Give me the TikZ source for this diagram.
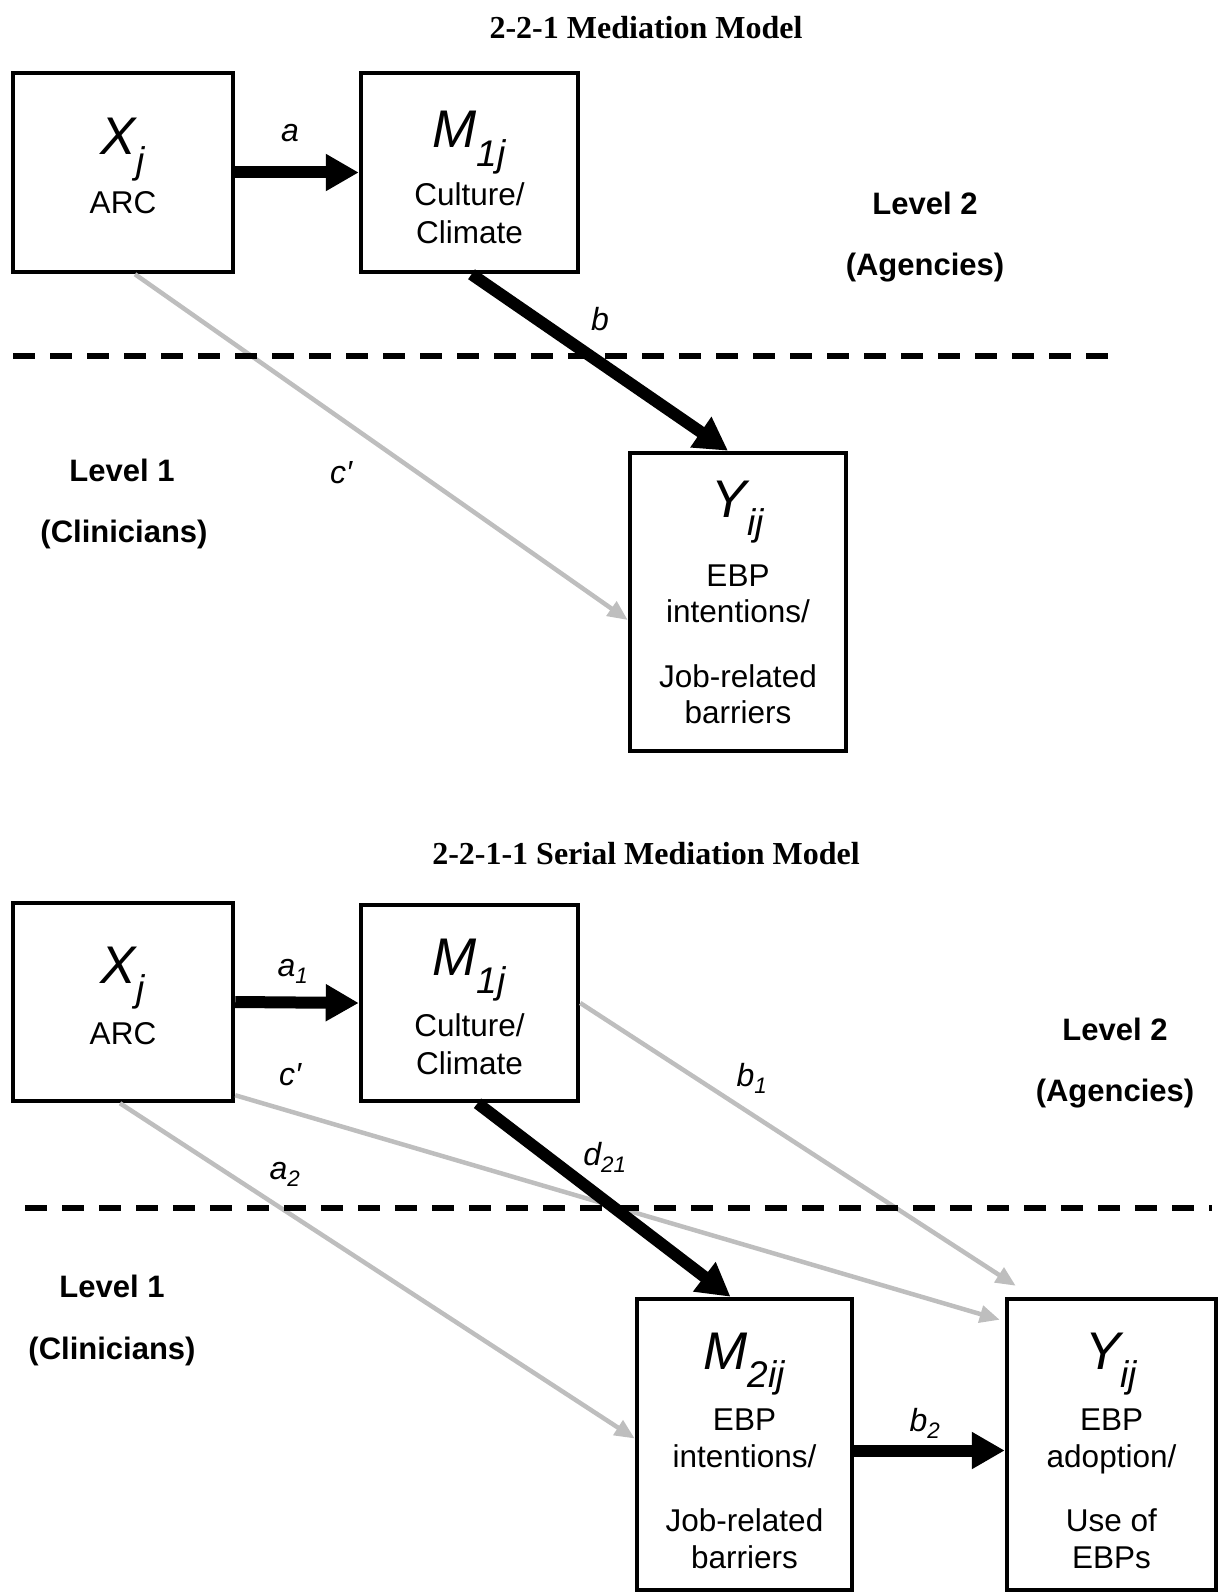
\documentclass[tikz,border=0pt]{standalone}
\usepackage{fontspec}
\setmainfont{Liberation Sans}
\newfontfamily\titlefont{Liberation Serif}
\usetikzlibrary{arrows.meta}
\definecolor{pathgray}{RGB}{190,190,190}

\begin{document}
\begin{tikzpicture}[x=1pt,y=-1pt,
  box/.style={draw, line width=4.5pt, inner sep=0pt},
  var/.style={font=\fontsize{53}{60}\selectfont\itshape, anchor=base, inner sep=0pt},
  txt/.style={font=\fontsize{31.5}{37}\selectfont, anchor=base, inner sep=0pt},
  lbl/.style={font=\fontsize{32}{38}\selectfont\itshape, inner sep=0pt},
  lvl/.style={font=\fontsize{31}{37}\selectfont\bfseries, inner sep=0pt},
  ttl/.style={font=\titlefont\fontsize{32}{38}\selectfont\bfseries, inner sep=0pt},
  heavy/.style={line width=12pt, -{Triangle[length=33pt,width=35pt]}},
  light/.style={draw=pathgray, line width=4.5pt, -{Triangle[length=20pt,width=17pt]}},
  divider/.style={line width=5.5pt, dash pattern=on 22pt off 15pt},
]
\useasboundingbox (0,0) rectangle (1220,1594);

% ---------------- 2-2-1 mediation model ----------------
\node[ttl] (title1) at (646,28) {2-2-1 Mediation Model};

\node[box, minimum width=220pt, minimum height=199pt] (xa) at (123,172.5) {};
\node[box, minimum width=217pt, minimum height=199pt] (ma) at (469.5,172.5) {};
\node[box, minimum width=216pt, minimum height=298pt] (ya) at (738,602) {};

\node[var] (xa-sym) at (123,155) {X\textsubscript{j}};
\node[txt] (xa-t1) at (123,214) {ARC};
\node[var] (ma-sym) at (469.5,148) {M\textsubscript{1j}};
\node[txt] (ma-t1) at (469.5,206) {Culture/};
\node[txt] (ma-t2) at (469.5,244) {Climate};
\node[var] (ya-sym) at (738,517) {Y\textsubscript{ij}};
\node[txt] (ya-t1) at (738,586) {EBP};
\node[txt] (ya-t2) at (738,622) {intentions/};
\node[txt] (ya-t3) at (738,687) {Job-related};
\node[txt] (ya-t4) at (738,723) {barriers};

\coordinate (div1-l) at (13,356);
\coordinate (div1-r) at (1122,356);

\draw[light] ([xshift=12pt]xa.south) -- ([yshift=-18pt]ya.west);
\draw[divider] (div1-l) -- (div1-r);
\draw[heavy] (xa.east) -- (ma.west);
\draw[heavy] ([xshift=2pt]ma.south) -- ([xshift=-10pt]ya.north);

\node[lbl] (lab-a) at (290,133) {a};
\node[lbl] (lab-b) at (600,319) {b};
\node[lbl] (lab-c) at (341,473) {c\char"2032};

\node[lvl] (lvl2a) at (925,203) {Level 2};
\node[lvl] (lvl2b) at (925,268) {(Agencies)};
\node[lvl] (lvl1a) at (122,470) {Level 1};
\node[lvl] (lvl1b) at (124,534) {(Clinicians)};

% ---------------- 2-2-1-1 serial mediation model ----------------
\node[ttl] (title2) at (646,854) {2-2-1-1 Serial Mediation Model};

\node[box, minimum width=220pt, minimum height=198pt] (xb) at (123,1002) {};
\node[box, minimum width=217pt, minimum height=196pt] (mb) at (469.5,1003) {};
\node[box, minimum width=215pt, minimum height=291pt] (mc) at (744.5,1444.5) {};
\node[box, minimum width=209pt, minimum height=291pt] (yb) at (1111.5,1444.5) {};

\node[var] (xb-sym) at (123,983) {X\textsubscript{j}};
\node[txt] (xb-t1) at (123,1044) {ARC};
\node[var] (mb-sym) at (469.5,975) {M\textsubscript{1j}};
\node[txt] (mb-t1) at (469.5,1036) {Culture/};
\node[txt] (mb-t2) at (469.5,1074) {Climate};
\node[var] (mc-sym) at (744.5,1369) {M\textsubscript{2ij}};
\node[txt] (mc-t1) at (744.5,1430) {EBP};
\node[txt] (mc-t2) at (744.5,1467) {intentions/};
\node[txt] (mc-t3) at (744.5,1531) {Job-related};
\node[txt] (mc-t4) at (744.5,1568) {barriers};
\node[var] (yb-sym) at (1111.5,1369) {Y\textsubscript{ij}};
\node[txt] (yb-t1) at (1111.5,1430) {EBP};
\node[txt] (yb-t2) at (1111.5,1467) {adoption/};
\node[txt] (yb-t3) at (1111.5,1531) {Use of};
\node[txt] (yb-t4) at (1111.5,1568) {EBPs};

\coordinate (div2-l) at (25,1208);
\coordinate (div2-r) at (1212,1208);

\draw[light] ([xshift=-3pt]xb.south) -- ([yshift=6pt]mc.west);
\draw[light] ([yshift=8pt]xb.south east) -- ([xshift=-5pt,yshift=-23pt]yb.north west);
\draw[light] (mb.east) -- ([xshift=11pt,yshift=11pt]yb.north west);
\draw[divider] (div2-l) -- (div2-r);
\draw[heavy] (xb.east) -- (mb.west);
\draw[heavy] ([xshift=8pt]mb.south) -- ([xshift=-14pt]mc.north);
\draw[heavy] ([yshift=-6pt]mc.east) -- ([yshift=-6pt]yb.west);

\node[lbl] (lab-a1) at (293,971) {a\textsubscript{1}};
\node[lbl] (lab-c2) at (290,1075) {c\char"2032};
\node[lbl] (lab-b1) at (752,1078) {b\textsubscript{1}};
\node[lbl] (lab-a2) at (285,1174) {a\textsubscript{2}};
\node[lbl] (lab-d) at (605,1157) {d\textsubscript{21}};
\node[lbl] (lab-b2) at (925,1423) {b\textsubscript{2}};

\node[lvl] (lvl2c) at (1115,1029) {Level 2};
\node[lvl] (lvl2d) at (1115,1094) {(Agencies)};
\node[lvl] (lvl1c) at (112,1286) {Level 1};
\node[lvl] (lvl1d) at (112,1351) {(Clinicians)};
\end{tikzpicture}
\end{document}
